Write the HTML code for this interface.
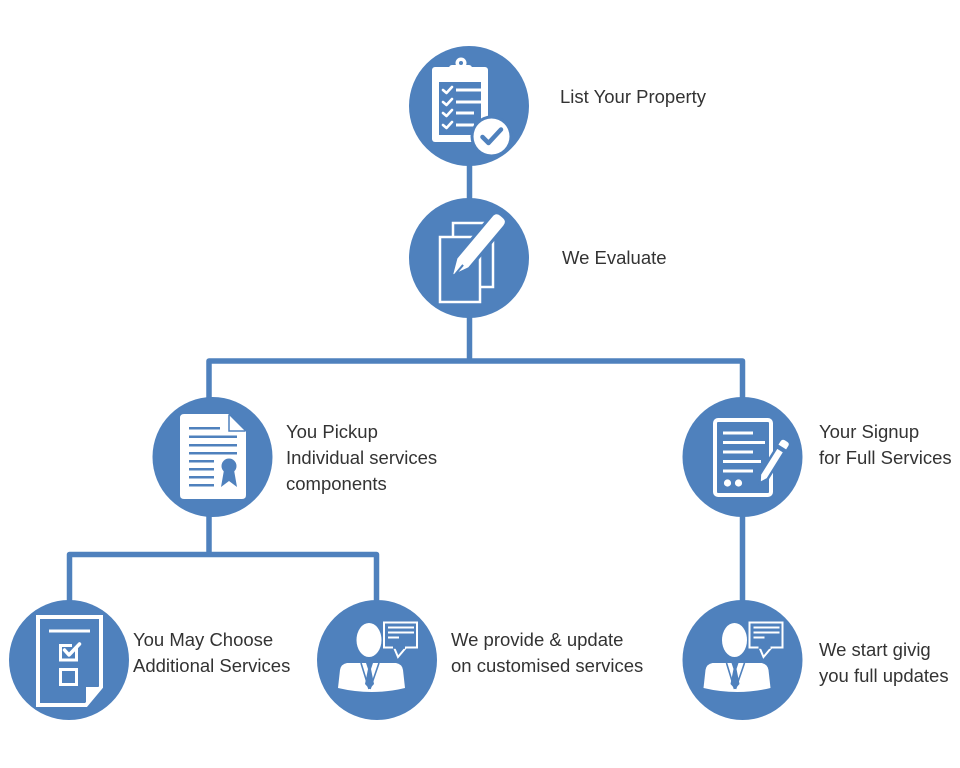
<!DOCTYPE html>
<html>
<head>
<meta charset="utf-8">
<style>
  html,body{margin:0;padding:0;background:#fff;}
  svg{display:block;}
  text{font-family:"Liberation Sans",Arial,sans-serif;font-size:18.5px;fill:#333;}
</style>
</head>
<body>
<svg width="960" height="768" viewBox="0 0 960 768" xmlns="http://www.w3.org/2000/svg">
  <defs>
    <g id="person">
      <!-- bubble -->
      <rect x="7" y="-37.5" width="33" height="25" fill="#4f81bd" stroke="#fff" stroke-width="2"/>
      <path d="M17,-12.5 L21,-3 L29,-12.5" fill="#4f81bd" stroke="#fff" stroke-width="2" stroke-linejoin="miter"/>
      <rect x="16" y="-13.6" width="12" height="2.4" fill="#4f81bd"/>
      <rect x="11" y="-33.5" width="26" height="2" fill="#fff"/>
      <rect x="11" y="-28.5" width="26" height="2" fill="#fff"/>
      <rect x="11" y="-23.5" width="11" height="2" fill="#fff"/>
      <!-- head -->
      <ellipse cx="-8" cy="-20" rx="14" ry="18.5" fill="#4f81bd"/>
      <ellipse cx="-8" cy="-20" rx="12.5" ry="17" fill="#fff"/>
      <!-- body -->
      <path d="M-30,3 Q-36,4 -37,10 L-39,28 Q-5,36 28,28 L26,10 Q25,4 19,3 Z" fill="#fff"/>
      <!-- lapels & tie -->
      <path d="M-16,3 L-8,29 M2,3 L-7,29" stroke="#4f81bd" stroke-width="1.6" fill="none"/>
      <path d="M-11,3 L-4,3 L-6,9 L-3,24 L-7.5,29 L-12,24 L-9,9 Z" fill="#4f81bd"/>
    </g>
  </defs>

  <!-- connectors -->
  <g fill="none" stroke="#4f81bd" stroke-width="5.5" stroke-linejoin="round">
    <path d="M469.5,106 V361"/>
    <path d="M209,457 V361 H742.5 V660"/>
    <path d="M209,457 V554.5"/>
    <path d="M69.5,660 V554.5 H376.5 V660"/>
  </g>

  <!-- circles -->
  <g fill="#4f81bd">
    <circle cx="469" cy="106" r="60"/>
    <circle cx="469" cy="258" r="60"/>
    <circle cx="212.5" cy="457" r="60"/>
    <circle cx="742.5" cy="457" r="60"/>
    <circle cx="69" cy="660" r="60"/>
    <circle cx="377" cy="660" r="60"/>
    <circle cx="742.5" cy="660" r="60"/>
  </g>

  <!-- Icon 1: clipboard -->
  <rect x="432" y="67" width="56" height="75" rx="3" fill="#fff"/>
  <rect x="439" y="82" width="42" height="53" fill="#4f81bd"/>
  <rect x="449" y="65" width="23" height="9" rx="3" fill="#fff"/>
  <circle cx="461" cy="63" r="5.5" fill="#fff"/>
  <circle cx="461" cy="63" r="2" fill="#4f81bd"/>
  <g stroke="#fff" stroke-width="2.6" fill="none" stroke-linecap="round" stroke-linejoin="round">
    <path d="M443,90 L446.5,93 L452,87"/>
    <path d="M443,102 L446.5,105 L452,99"/>
    <path d="M443,113 L446.5,116 L452,110"/>
    <path d="M443,125 L446.5,128 L452,122"/>
  </g>
  <g fill="#fff">
    <rect x="456" y="88.5" width="25" height="3"/>
    <rect x="456" y="100.5" width="25" height="3"/>
    <rect x="456" y="111.5" width="18" height="3"/>
    <rect x="456" y="123.5" width="18" height="3"/>
  </g>
  <circle cx="491.5" cy="136.5" r="21" fill="#4f81bd"/>
  <circle cx="491.5" cy="136.5" r="18" fill="#fff"/>
  <path d="M482.5,137 L488.5,143 L501,129.5" stroke="#4f81bd" stroke-width="4.5" fill="none" stroke-linecap="round" stroke-linejoin="round"/>

  <!-- Icon 2: evaluate -->
  <rect x="453" y="223" width="40" height="64" fill="#4f81bd" stroke="#fff" stroke-width="2.5"/>
  <rect x="440" y="237" width="40" height="65" fill="#4f81bd" stroke="#fff" stroke-width="2.5"/>
  <g transform="translate(451,277) rotate(-50)">
    <path d="M0,0 L18,-8.5 L73,-8.5 Q80,-8.5 80,-1.5 L80,1.5 Q80,8.5 73,8.5 L18,8.5 Z" fill="#fff" stroke="#4f81bd" stroke-width="3" stroke-linejoin="round"/>
    <path d="M5,1.5 L17,1.5" stroke="#4f81bd" stroke-width="2"/>
  </g>

  <!-- Icon 3: certificate -->
  <path d="M184,414 H228 L246,432 V495 Q246,499 242,499 H184 Q180,499 180,495 V418 Q180,414 184,414 Z" fill="#fff"/>
  <path d="M229,415 V431 H245" fill="none" stroke="#4f81bd" stroke-width="1.5"/>
  <g fill="#4f81bd">
    <rect x="189" y="427" width="31" height="2.5"/>
    <rect x="189" y="435.5" width="48" height="2.5"/>
    <rect x="189" y="444" width="48" height="2.5"/>
    <rect x="189" y="452" width="48" height="2.5"/>
    <rect x="189" y="460" width="25" height="2.5"/>
    <rect x="189" y="468" width="25" height="2.5"/>
    <rect x="189" y="476" width="25" height="2.5"/>
    <rect x="189" y="484" width="25" height="2.5"/>
    <circle cx="229" cy="466" r="7.5"/>
    <path d="M224,470 L221,487 L229,481 L237,487 L234,470 Z"/>
  </g>

  <!-- Icon 4: signup -->
  <rect x="715" y="420" width="56" height="75" rx="3" fill="#4f81bd" stroke="#fff" stroke-width="4"/>
  <g fill="#fff">
    <rect x="723" y="431.5" width="30" height="3"/>
    <rect x="723" y="441" width="42" height="3"/>
    <rect x="723" y="450.5" width="30" height="3"/>
    <rect x="723" y="460" width="38" height="3"/>
    <rect x="723" y="469.5" width="30" height="3"/>
    <circle cx="727.5" cy="483" r="3.6"/>
    <circle cx="738.5" cy="483" r="3.6"/>
  </g>
  <g transform="translate(759.5,483.5) rotate(-58)">
    <path d="M0,0 L8,-4.5 L40,-4.5 L40,4.5 L8,4.5 Z" fill="#fff" stroke="#4f81bd" stroke-width="2.5" stroke-linejoin="round"/>
    <path d="M43,-4.5 L47,-4.5 Q50,-4.5 50,-1.5 L50,1.5 Q50,4.5 47,4.5 L43,4.5 Z" fill="#fff"/>
  </g>

  <!-- Icon 5: choose additional -->
  <path d="M38,617 H101 V687 L86,705 H38 Z" fill="#4f81bd" stroke="#fff" stroke-width="4" stroke-linejoin="miter"/>
  <path d="M86,687 H101 L86,705 Z" fill="#fff"/>
  <rect x="49" y="629.5" width="41" height="3" fill="#fff"/>
  <rect x="60.5" y="645.5" width="16" height="14.5" fill="none" stroke="#fff" stroke-width="3"/>
  <rect x="60.5" y="669.5" width="16" height="15" fill="none" stroke="#fff" stroke-width="3"/>
  <rect x="72" y="641" width="8" height="6" fill="#4f81bd"/>
  <path d="M64.5,650 L69,655 L79.5,644" fill="none" stroke="#fff" stroke-width="3.5" stroke-linecap="round" stroke-linejoin="round"/>

  <!-- Icons 6 & 7: person -->
  <use href="#person" transform="translate(377,660)"/>
  <use href="#person" transform="translate(742.5,660)"/>

  <!-- labels -->
  <text x="560" y="103">List Your Property</text>
  <text x="562" y="264">We Evaluate</text>
  <text x="286" y="438">You Pickup</text>
  <text x="286" y="464">Individual services</text>
  <text x="286" y="490">components</text>
  <text x="819" y="438">Your Signup</text>
  <text x="819" y="464">for Full Services</text>
  <text x="133" y="646">You May Choose</text>
  <text x="133" y="672">Additional Services</text>
  <text x="451" y="646">We provide &amp; update</text>
  <text x="451" y="672">on customised services</text>
  <text x="819" y="656">We start givig</text>
  <text x="819" y="682">you full updates</text>
</svg>
</body>
</html>
